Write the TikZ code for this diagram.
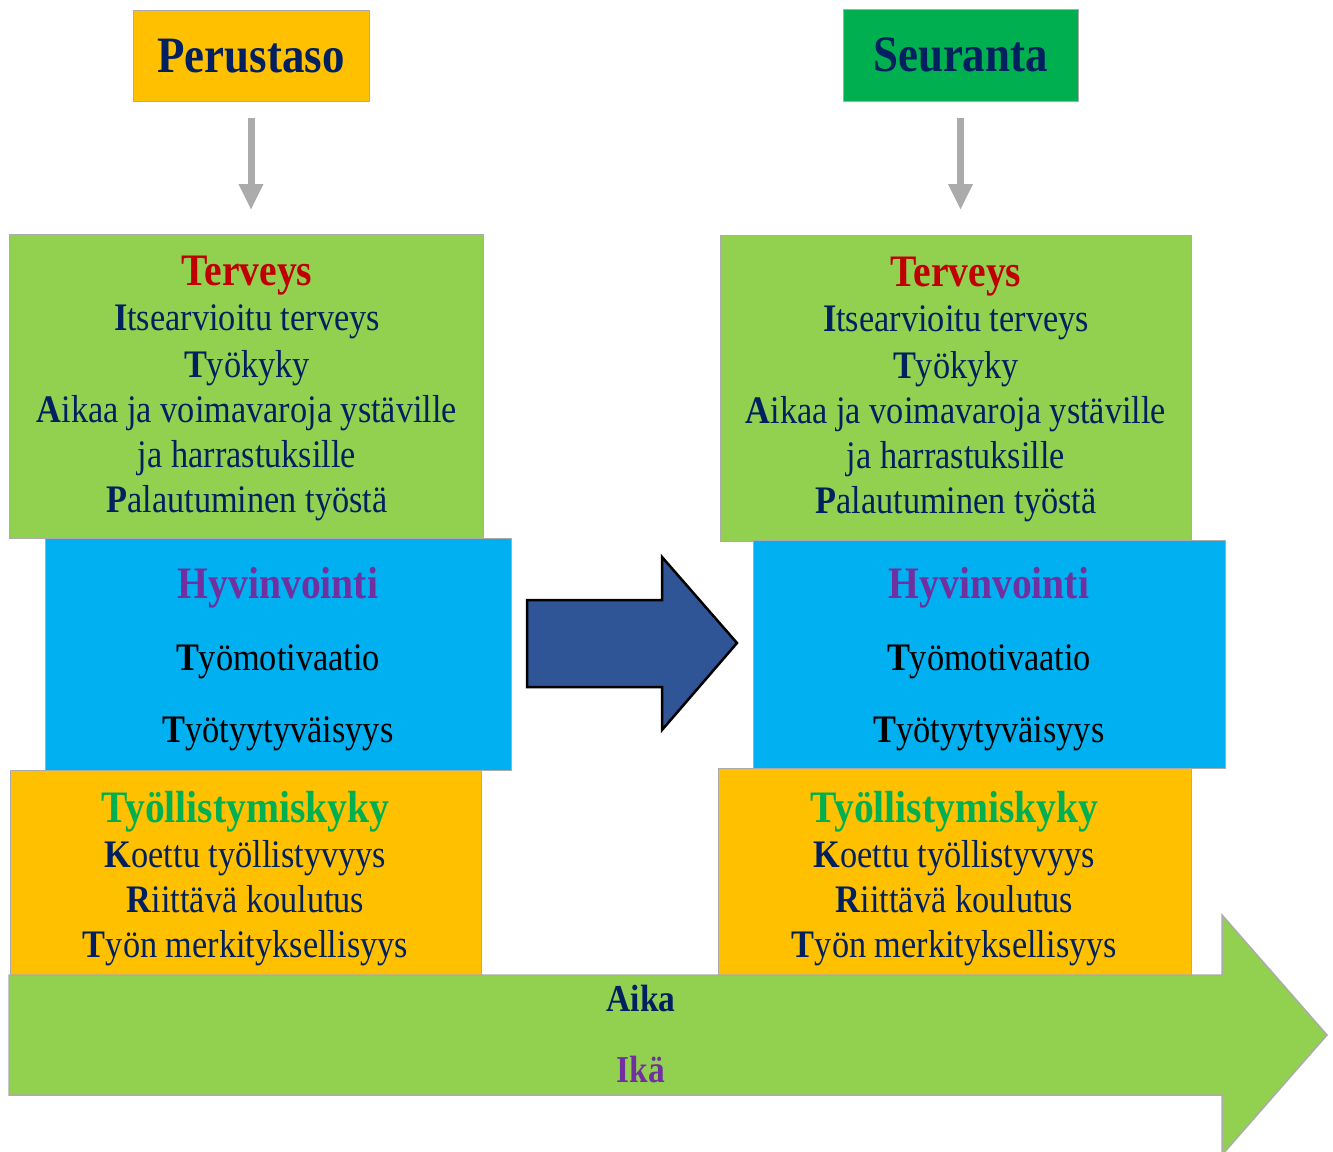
\documentclass[tikz,border=0pt]{standalone}
\usepackage{fontspec}
\setmainfont{Liberation Serif}[FakeStretch=0.88]
\usetikzlibrary{arrows.meta}

\definecolor{navy}{HTML}{002060}
\definecolor{orangebox}{HTML}{FFC000}
\definecolor{greenbox}{HTML}{92D050}
\definecolor{bluebox}{HTML}{00B0F0}
\definecolor{darkgreen}{HTML}{00B050}
\definecolor{redtitle}{HTML}{C00000}
\definecolor{purpletitle}{HTML}{7030A0}
\definecolor{arrowblue}{HTML}{2F5597}
\definecolor{edgegray}{HTML}{ABABAB}

\tikzset{
  titlebox/.style={draw=edgegray, line width=1pt, inner sep=0pt, text=navy,
    font=\fontsize{51}{56}\selectfont\bfseries},
  stack/.style={draw=edgegray, line width=1pt, inner sep=0pt, anchor=north west},
  head/.style={anchor=base, inner sep=0pt, font=\fontsize{45}{50}\selectfont\bfseries},
  item/.style={anchor=base, inner sep=0pt, font=\fontsize{39}{45}\selectfont},
  timelabel/.style={anchor=base, inner sep=0pt, font=\fontsize{38}{44}\selectfont\bfseries},
  pointer/.style={draw=edgegray, line width=7pt, shorten <=16pt,
    -{Triangle[width=23pt,length=26pt]}},
}

\begin{document}
\begin{tikzpicture}[x=1pt, y=-1pt]
\useasboundingbox (0,0) rectangle (1333,1151);
\fill[white] (0,0) rectangle (1333,1151);

% the two time points
\node[titlebox, fill=orangebox, minimum width=236pt, minimum height=91pt] (perustaso) at (251,56) {Perustaso};
\node[titlebox, fill=darkgreen, minimum width=235pt, minimum height=92pt] (seuranta) at (960.5,55) {Seuranta};
\coordinate (perusEnd) at (251,210);
\coordinate (seurEnd) at (960.5,210);
\draw[pointer] (perustaso) -- (perusEnd);
\draw[pointer] (seuranta) -- (seurEnd);

% left column
\node[stack, fill=greenbox, minimum width=474pt, minimum height=304pt] (terveysL) at (9,234) {};
\node[stack, fill=bluebox, minimum width=466pt, minimum height=232pt] (hyvinL) at (45,538) {};
\node[stack, fill=orangebox, minimum width=471pt, minimum height=205pt] (tyollL) at (10,770) {};

\node[head, text=redtitle] (terveysLt) at (247,285) {Terveys};
\foreach \txt/\yy [count=\i] in {{\textbf{I}tsearvioitu terveys}/330, {\textbf{T}yökyky}/377,
    {\textbf{A}ikaa ja voimavaroja ystäville}/422, {ja harrastuksille}/467, {\textbf{P}alautuminen työstä}/512}
  \node[item, text=navy] (terveysL\i) at (247,\yy) {\txt};

\node[head, text=purpletitle] (hyvinLt) at (278,598) {Hyvinvointi};
\foreach \txt/\yy [count=\i] in {{\textbf{T}yömotivaatio}/670, {\textbf{T}yötyytyväisyys}/742}
  \node[item] (hyvinL\i) at (278,\yy) {\txt};

\node[head, text=darkgreen] (tyollLt) at (245.5,822) {Työllistymiskyky};
\foreach \txt/\yy [count=\i] in {{\textbf{K}oettu työllistyvyys}/867, {\textbf{R}iittävä koulutus}/912,
    {\textbf{T}yön merkityksellisyys}/957}
  \node[item, text=navy] (tyollL\i) at (245.5,\yy) {\txt};

% right column
\node[stack, fill=greenbox, minimum width=471pt, minimum height=306pt] (terveysR) at (720,235) {};
\node[stack, fill=bluebox, minimum width=472pt, minimum height=228pt] (hyvinR) at (753,540) {};
\node[stack, fill=orangebox, minimum width=473pt, minimum height=207pt] (tyollR) at (718,768) {};

\node[head, text=redtitle] (terveysRt) at (956,286) {Terveys};
\foreach \txt/\yy [count=\i] in {{\textbf{I}tsearvioitu terveys}/331, {\textbf{T}yökyky}/378,
    {\textbf{A}ikaa ja voimavaroja ystäville}/423, {ja harrastuksille}/468, {\textbf{P}alautuminen työstä}/513}
  \node[item, text=navy] (terveysR\i) at (956,\yy) {\txt};

\node[head, text=purpletitle] (hyvinRt) at (989,598) {Hyvinvointi};
\foreach \txt/\yy [count=\i] in {{\textbf{T}yömotivaatio}/670, {\textbf{T}yötyytyväisyys}/742}
  \node[item] (hyvinR\i) at (989,\yy) {\txt};

\node[head, text=darkgreen] (tyollRt) at (954.5,822) {Työllistymiskyky};
\foreach \txt/\yy [count=\i] in {{\textbf{K}oettu työllistyvyys}/867, {\textbf{R}iittävä koulutus}/912,
    {\textbf{T}yön merkityksellisyys}/957}
  \node[item, text=navy] (tyollR\i) at (954.5,\yy) {\txt};

% change arrow between the columns
\draw[fill=arrowblue, line width=2.5pt, line join=miter]
  (527,600) -- (662,600) -- (662,557) -- (737,643) -- (662,730) -- (662,687) -- (527,687) -- cycle;

% time axis
\draw[draw=edgegray, line width=1.5pt, fill=greenbox, line join=miter]
  (9,975) -- (1222,975) -- (1222,915) -- (1327,1035) -- (1222,1155) -- (1222,1095) -- (9,1095) -- cycle;
\node[timelabel, text=navy] (aika) at (641,1011) {Aika};
\node[timelabel, text=purpletitle] (ika) at (641,1082) {Ikä};
\end{tikzpicture}
\end{document}
